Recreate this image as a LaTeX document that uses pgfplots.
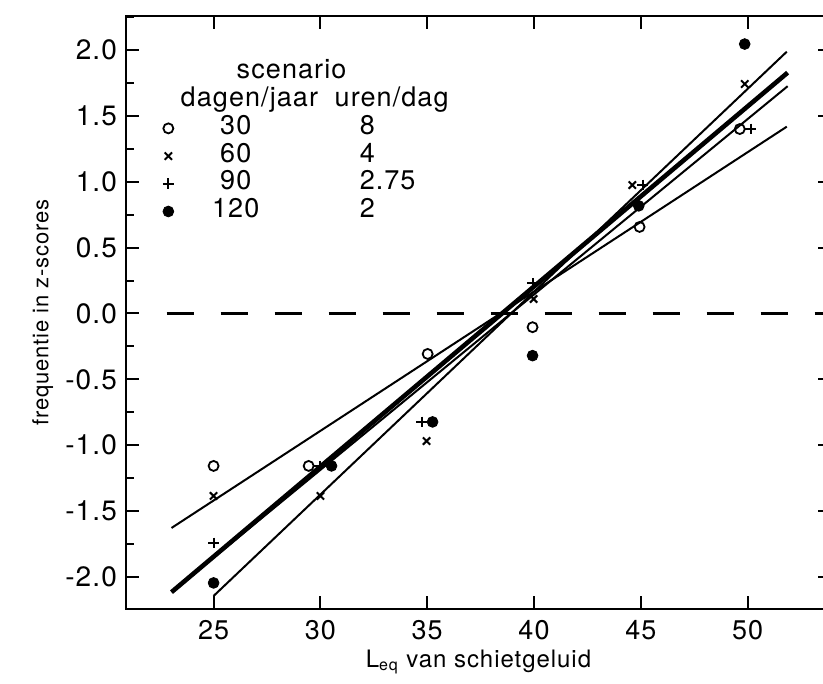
\documentclass[border=0pt]{standalone}
\usepackage{pgfplots}
\pgfplotsset{compat=1.18}
\usepackage{fontspec}
\setmainfont[LetterSpace=4]{TeX Gyre Heros}
\newcommand{\lrow}[2]{\makebox[46pt][c]{#1}\hspace{39pt}#2}
\begin{document}
\begin{tikzpicture}
\useasboundingbox (-63pt,-37.5pt) rectangle (348.5pt,304.5pt);
\begin{axis}[
  scale only axis, width=352.5pt, height=296.5pt,
  at={(0pt,0pt)}, anchor=south west,
  xmin=20.9, xmax=53.9, ymin=-2.243, ymax=2.258,
  axis line style={line width=1.3pt},
  every tick/.style={line width=1pt, black},
  major tick length=6.5pt, minor tick length=4pt,
  tick align=inside,
  xtick={25,30,35,40,45,50},
  ytick={-2,-1.5,-1,-0.5,0,0.5,1,1.5,2},
  minor ytick={-2.25,-1.75,-1.25,-0.75,-0.25,0.25,0.75,1.25,1.75,2.25},
  /pgf/number format/assume math mode=true,
  xticklabel style={yshift=-2pt, font=\fontsize{13.5}{16}\selectfont},
  yticklabel style={xshift=-1pt, font=\fontsize{14}{16}\selectfont,
    /pgf/number format/.cd, fixed, fixed zerofill, precision=1},
  xlabel={L\textsubscript{eq} van schietgeluid},
  ylabel={frequentie in z-scores},
  x label style={at={(axis description cs:0.5,-0.0894)}, anchor=center, font=\fontsize{12}{14}\selectfont},
  y label style={at={(axis description cs:-0.118,0.5)}, anchor=center, font=\fontsize{11}{13}\selectfont},
  legend image code/.code={\draw[#1] plot coordinates {(0pt,0pt)};},
  legend cell align=left,
  legend style={draw=none, fill=none, at={(axis cs:22.33,1.95)}, anchor=north west,
    font=\fontsize{13.5}{16}\selectfont, row sep=1.85pt, column sep=7.5pt,
    nodes={text height=8.5pt, text depth=2.5pt, inner sep=0.5pt}},
]
\addlegendimage{empty legend}\addlegendentry{\hspace*{23.5pt}scenario}
\addlegendimage{empty legend}\addlegendentry{\hspace*{-4.5pt}\makebox[77pt][l]{dagen/jaar}uren/dag}

\addplot[only marks, mark=o, mark size=2.5pt, mark options={line width=0.9pt}]
  coordinates {(25,-1.157) (29.45,-1.157) (35.02,-0.307) (39.93,-0.104) (44.94,0.657) (49.63,1.40)};
\addlegendentry{\lrow{30}{8}}
\addplot[only marks, mark=x, mark size=2.6pt, mark options={line width=1pt}]
  coordinates {(25,-1.385) (30,-1.385) (34.97,-0.968) (39.98,0.11) (44.6,0.975) (49.86,1.742)};
\addlegendentry{\lrow{60}{4}}
\addplot[only marks, mark=+, mark size=2.7pt, mark options={line width=1pt}]
  coordinates {(25,-1.742) (29.96,-1.157) (34.74,-0.823) (39.93,0.23) (45.08,0.975) (50.14,1.40)};
\addlegendentry{\lrow{90}{2.75}}
\addplot[only marks, mark=*, mark size=2.7pt]
  coordinates {(25,-2.045) (30.52,-1.157) (35.25,-0.823) (39.93,-0.32) (44.9,0.817) (49.86,2.045)};
\addlegendentry{\lrow{120}{2}}

\addplot[forget plot, black, line width=1pt] coordinates {(23.03,-1.628) (51.83,1.418)};
\addplot[forget plot, black, line width=1pt] coordinates {(25,-2.144) (51.83,1.987)};
\addplot[forget plot, black, line width=2.3pt] coordinates {(23.03,-2.115) (51.87,1.828)};
\addplot[forget plot, black, line width=1pt] coordinates {(23.03,-2.115) (51.87,1.725)};
\addplot[forget plot, black, line width=1.2pt, dash pattern=on 13.5pt off 13.5pt] coordinates {(22.8,0) (53.9,0)};
\end{axis}
\end{tikzpicture}
\end{document}
